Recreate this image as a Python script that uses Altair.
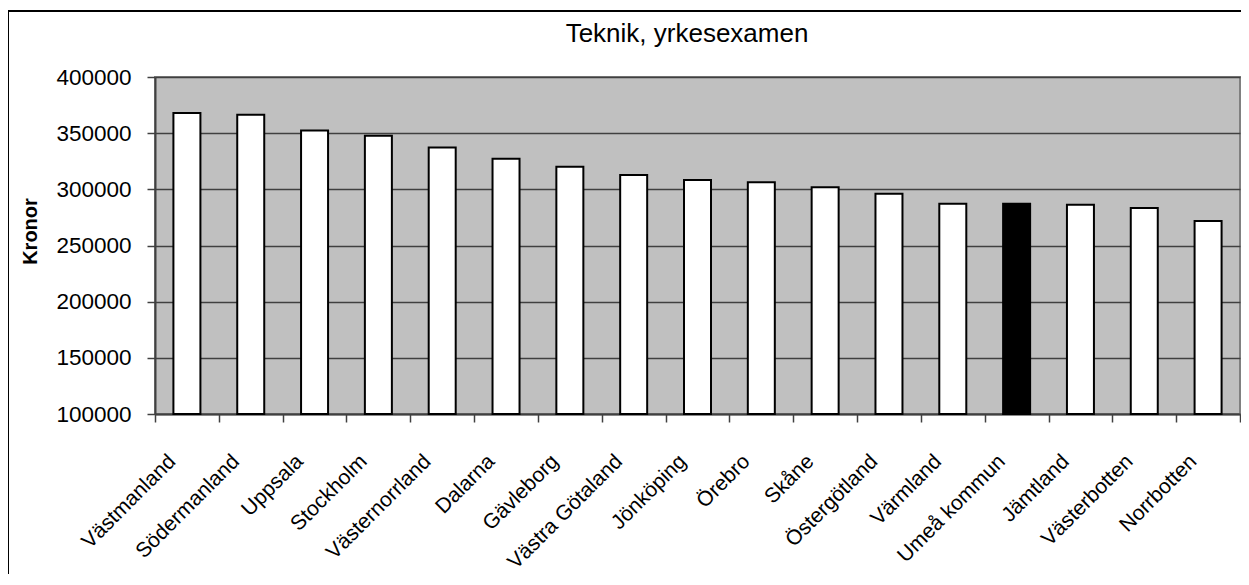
import altair as alt
import pandas as pd

regions = ["Västmanland", "Södermanland", "Uppsala", "Stockholm", "Västernorrland",
           "Dalarna", "Gävleborg", "Västra Götaland", "Jönköping", "Örebro", "Skåne",
           "Östergötland", "Värmland", "Umeå kommun", "Jämtland", "Västerbotten", "Norrbotten"]
values = [368000, 366300, 352400, 347600, 337300, 327200, 320200, 312800, 308300,
          306300, 301800, 296100, 287200, 287200, 286300, 283400, 271900]
y_ticks = [100000, 150000, 200000, 250000, 300000, 350000, 400000]
highlight = "Umeå kommun"
chart_title = "Teknik, yrkesexamen"

df = pd.DataFrame({"region": regions, "kronor": values})
FONT = "Liberation Sans"

frame = alt.Chart(df).mark_rect(fill="white", fillOpacity=0, stroke="black", strokeWidth=1.5, clip=False).encode(
    x=alt.value(-147), x2=alt.value(1120), y=alt.value(-66), y2=alt.value(620)
)

title_text = alt.Chart(pd.DataFrame({"t": [chart_title]})).mark_text(
    font=FONT, fontSize=26, color="black", align="center", baseline="alphabetic"
).encode(text="t:N", x=alt.value(532), y=alt.value(-35))

bars = alt.Chart(df).mark_bar(stroke="black", strokeWidth=2, size=27).encode(
    x=alt.X("region:N", sort=None, title=None,
            scale=alt.Scale(paddingInner=0, paddingOuter=0),
            axis=alt.Axis(labelAngle=-45, labelAlign="right", labelBaseline="middle",
                          labelFontSize=21, labelFont=FONT, labelColor="black",
                          labelPadding=36, labelOffset=-15, tickBand="extent",
                          tickSize=8, tickColor="#404040", tickWidth=1.5,
                          domainColor="#404040", domainWidth=2, grid=False,
                          labelOverlap=False)),
    y=alt.Y("kronor:Q", title="Kronor",
            scale=alt.Scale(domain=[100000, 400000], zero=False, nice=False),
            axis=alt.Axis(values=y_ticks, format="d", labelFontSize=22.5, labelFont=FONT,
                          labelColor="black", labelPadding=16, tickSize=8,
                          tickColor="#404040", tickWidth=1.5, domainColor="#404040",
                          domainWidth=2, grid=True, gridColor="#404040", gridWidth=1.3,
                          titleFont=FONT, titleFontSize=20, titleFontWeight="bold",
                          titleColor="black", titlePadding=15, titleY=154)),
    y2=alt.datum(100000),
    fill=alt.condition(alt.datum.region == highlight, alt.value("black"), alt.value("white")),
)

chart = alt.layer(frame, bars, title_text).properties(
    width=1085, height=337,
    autosize=alt.AutoSizeParams(type="none"),
    padding={"left": 147, "top": 69, "right": 1, "bottom": 160},
    background="white",
).configure_view(fill="#C0C0C0", stroke="#808080", strokeWidth=2)

chart.save("out.html", embed_options={"renderer": "svg", "actions": False})
